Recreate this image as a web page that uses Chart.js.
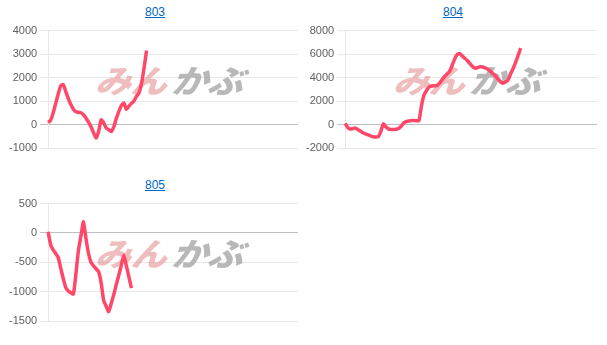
<!DOCTYPE html>
<html><head><meta charset="utf-8">
<script src="https://cdn.jsdelivr.net/npm/chart.js@4/dist/chart.umd.min.js"></script>
<style>
html,body{margin:0;padding:0;background:#fff;width:607px;height:345px;overflow:hidden;font-family:"Liberation Sans",Arial,sans-serif;}
.t{position:absolute;font-size:12px;line-height:14px;text-align:center;}
.t a{color:#0066c0;text-decoration:underline;}
.w{position:absolute;}
</style></head><body>
<div class="t" style="left:105px;top:5px;width:100px"><a href="#">803</a></div>
<div class="t" style="left:403px;top:5px;width:100px"><a href="#">804</a></div>
<div class="t" style="left:105px;top:178px;width:100px"><a href="#">805</a></div>
<div class="w" style="left:6px;top:21px;width:292px;height:147px"><canvas id="c803"></canvas></div>
<div class="w" style="left:303px;top:21px;width:294px;height:147px"><canvas id="c804"></canvas></div>
<div class="w" style="left:6px;top:194px;width:292px;height:147px"><canvas id="c805"></canvas></div>
<script>
// category count shared by the three charts (x labels are not shown)
const categoryCount = 100;
const labels = Array.from({length: categoryCount}, (_, i) => String(i + 1));

const titles = ["803", "804", "805"];

const values803 = [80,180,500,900,1300,1650,1700,1400,1100,850,650,540,520,500,420,280,100,-100,-350,-580,
  -300,200,80,-150,-220,-300,-100,250,550,800,920,650,780,900,1000,1200,1350,1750,2400,3150];

const values804 = [100,-250,-380,-350,-300,-420,-560,-700,-790,-880,-960,-1040,-1060,-1040,-600,50,-200,-370,-420,-430,
  -400,-330,-150,120,240,300,350,340,320,320,1600,2500,2900,3200,3280,3300,3320,3500,3780,4050,
  4300,4500,5000,5550,5950,6050,5850,5650,5450,5200,4950,4800,4850,4920,4900,4830,4730,4550,4350,4150,
  3900,3650,3520,3620,3780,4300,4750,5300,5900,6500];

const values805 = [20,-200,-290,-350,-420,-600,-780,-930,-990,-1020,-1040,-700,-300,-50,190,-100,-350,-500,-560,-610,
  -660,-850,-1150,-1250,-1340,-1200,-1050,-880,-720,-550,-380,-560,-750,-940];

const ticks803 = {min: -1000, max: 4000, step: 1000};
const ticks804 = {min: -2000, max: 8000, step: 2000};
const ticks805 = {min: -1500, max: 500, step: 500};

const watermark = {
  id: 'wm',
  beforeDatasetsDraw(chart) {
    const a = chart.chartArea, ctx = chart.ctx;
    const cx = (a.left + a.right) / 2, cy = a.top + 50;
    ctx.save();
    ctx.font = '900 32px "Noto Sans CJK JP"';
    ctx.textBaseline = 'middle';
    const p1 = 'みん', p2 = 'かぶ';
    const w1 = ctx.measureText(p1).width, w2 = ctx.measureText(p2).width, gap = 4;
    const total = w1 + w2 + gap;
    ctx.translate(cx, cy);
    ctx.transform(1.12, 0, -0.38, 1, 0, 0);
    ctx.fillStyle = 'rgba(228,145,145,0.6)';
    ctx.fillText(p1, -total / 2, 0);
    ctx.fillStyle = 'rgba(160,160,160,0.75)';
    ctx.fillText(p2, -total / 2 + w1 + gap, 0);
    ctx.restore();
  }
};

function make(id, data, t) {
  new Chart(document.getElementById(id), {
    type: 'line',
    data: {labels, datasets: [{data, borderColor: 'rgb(255,72,105)', borderWidth: 3.5, pointRadius: 0, tension: 0.2, fill: false}]},
    options: {
      responsive: true, maintainAspectRatio: false, animation: false,
      layout: {padding: {bottom: 20, right: 0}},
      plugins: {legend: {display: false}, tooltip: {enabled: false}},
      scales: {
        x: {display: false},
        y: {
          min: t.min, max: t.max,
          ticks: {stepSize: t.step, color: '#606060', callback: v => String(v),
                  font: {family: '"Liberation Sans", Arial, sans-serif', size: 11}},
          grid: {color: c => c.tick && c.tick.value === 0 ? 'rgba(0,0,0,0.25)' : 'rgba(0,0,0,0.09)', tickLength: 8},
          border: {color: 'rgba(0,0,0,0.09)'}
        }
      }
    },
    plugins: [watermark]
  });
}
make('c803', values803, ticks803);
make('c804', values804, ticks804);
make('c805', values805, ticks805);
</script>
</body></html>
